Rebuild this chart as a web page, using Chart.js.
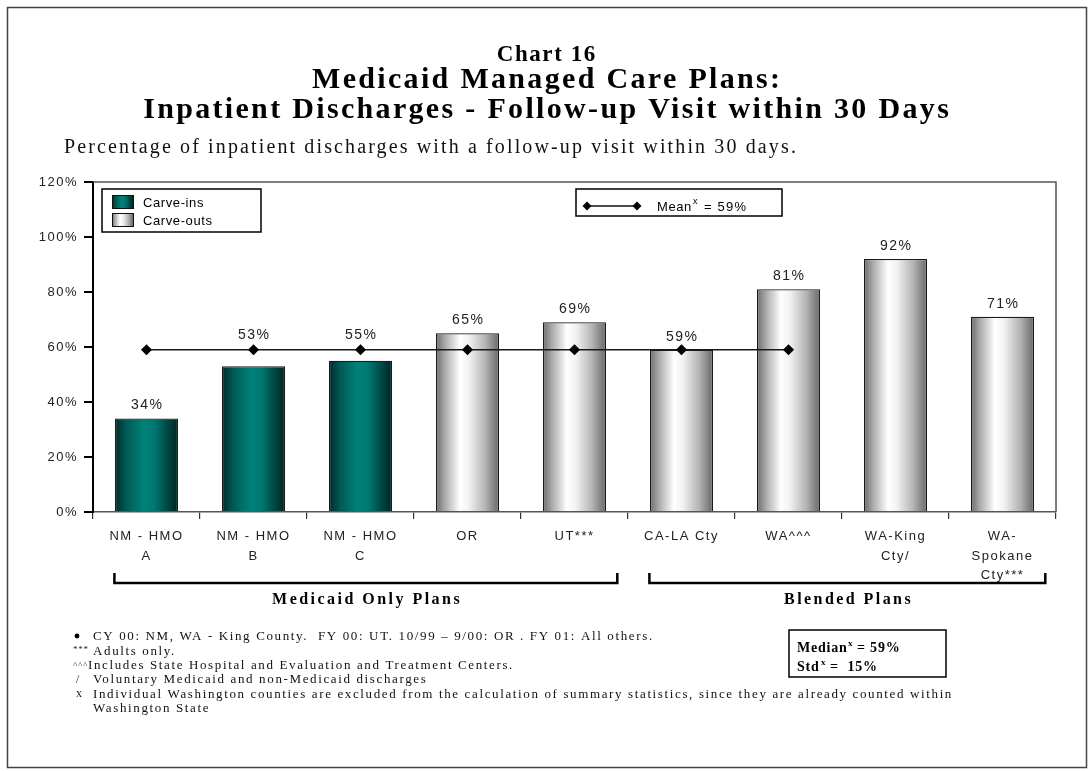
<!DOCTYPE html>
<html>
<head>
<meta charset="utf-8">
<script src="https://cdn.jsdelivr.net/npm/chart.js@4.4.1/dist/chart.umd.min.js"></script>
<style>
	html, body { margin: 0; padding: 0; background: #fff; }
	#wrap { position: relative; width: 1092px; height: 771px; }
</style>
</head>
<body>
<div id="wrap"><canvas id="chart" width="1092" height="771"></canvas></div>
<script>
const planLabels = [['NM - HMO', 'A'], ['NM - HMO', 'B'], ['NM - HMO', 'C'], 'OR', 'UT***', 'CA-LA Cty', 'WA^^^', ['WA-King', 'Cty/'], ['WA-', 'Spokane', 'Cty***']]
const followUpRates = [34, 53, 55, 65, 69, 59, 81, 92, 71]
const planTypes = ['Carve-ins', 'Carve-ins', 'Carve-ins', 'Carve-outs', 'Carve-outs', 'Carve-outs', 'Carve-outs', 'Carve-outs', 'Carve-outs']
const meanRate = [59, 59, 59, 59, 59, 59, 59, null, null]
const yTicks = [0, 20, 40, 60, 80, 100, 120]

const groupNames = ['Medicaid Only Plans', 'Blended Plans']
const groupFirst = [0, 5]
const groupLast = [4, 8]

const footnoteMarks = ['•', '***', '^^^', '/', 'x', '']
const footnoteTexts = [
	'CY 00: NM, WA - King County.  FY 00: UT. 10/99 – 9/00: OR . FY 01: All others.',
	'Adults only.',
	'Includes State Hospital and Evaluation and Treatment Centers.',
	'Voluntary Medicaid and non-Medicaid discharges',
	'Individual Washington counties are excluded from the calculation of summary statistics, since they are already counted within',
	'Washington State'
]

const SANS = '"Liberation Sans", Arial, sans-serif'
const SERIF = '"Liberation Serif", "Times New Roman", serif'
const BAR_PCT = 0.59

// horizontal shaded fills like the old Excel bars
function shade(ctx, x0, x1, type) {
	const g = ctx.createLinearGradient(x0, 0, x1, 0)
	if (type === 'Carve-ins') {
		g.addColorStop(0, '#002b28')
		g.addColorStop(0.18, '#005a55')
		g.addColorStop(0.45, '#008179')
		g.addColorStop(0.62, '#007872')
		g.addColorStop(0.85, '#00433f')
		g.addColorStop(1, '#002522')
	} else {
		g.addColorStop(0, '#6c6c6c')
		g.addColorStop(0.14, '#a9a9a9')
		g.addColorStop(0.38, '#ffffff')
		g.addColorStop(0.52, '#f2f2f2')
		g.addColorStop(0.78, '#b4b4b4')
		g.addColorStop(0.93, '#7f7f7f')
		g.addColorStop(1, '#6a6a6a')
	}
	return g
}

const barFill = c => {
	const type = planTypes[c.dataIndex]
	const base = type === 'Carve-ins' ? '#008179' : '#e0e0e0'
	const xs = c.chart.scales.x
	if (c.type !== 'data' || !xs || !xs.width) return base
	const cx = xs.getPixelForValue(c.dataIndex)
	const hw = xs.width / planLabels.length * BAR_PCT / 2
	return shade(c.chart.ctx, cx - hw, cx + hw, type)
}

function spacingFor(ctx, text, font, width) {
	ctx.save()
	ctx.font = font
	ctx.letterSpacing = '0px'
	const w = ctx.measureText(text).width
	ctx.restore()
	return (width - w) / text.length
}

function put(ctx, text, x, y, font, opts = {}) {
	const { align = 'left', color = '#111', spacing = 0, width = 0, baseline = 'middle' } = opts
	const ls = width ? spacingFor(ctx, text, font, width) : spacing
	ctx.save()
	ctx.font = font
	ctx.letterSpacing = ls + 'px'
	ctx.fillStyle = color
	ctx.textAlign = align
	ctx.textBaseline = baseline
	ctx.fillText(text, align === 'center' ? x + ls / 2 : x, y)
	ctx.restore()
}

function diamond(ctx, x, y, r) {
	ctx.beginPath()
	ctx.moveTo(x, y - r)
	ctx.lineTo(x + r, y)
	ctx.lineTo(x, y + r)
	ctx.lineTo(x - r, y)
	ctx.closePath()
	ctx.fill()
}

const decorations = {
	id: 'decorations',
	beforeDraw(chart) {
		chart.ctx.letterSpacing = '1.5px'
	},
	afterDatasetsDraw(chart) {
		const ctx = chart.ctx
		const meanY = chart.scales.y.getPixelForValue(meanRate[0])
		const meta = chart.getDatasetMeta(1)
		meta.data.forEach((bar, i) => {
			let y = bar.y - 13
			// keep the label clear of the mean line
			if (meanRate[i] != null && Math.abs(y - meanY) < 12) y = meanY - 15
			put(ctx, followUpRates[i] + '%', bar.x, y, '14px ' + SANS, { align: 'center', color: '#222', spacing: 1.5 })
		})
	},
	afterDraw(chart) {
		const ctx = chart.ctx
		const area = chart.chartArea
		const xs = chart.scales.x
		const cw = xs.width / planLabels.length
		ctx.save()
		ctx.letterSpacing = '0px'

		// page frame
		ctx.strokeStyle = '#444'
		ctx.lineWidth = 1.5
		ctx.strokeRect(7.5, 7.5, 1079, 760)

		// plot frame top and right
		ctx.strokeStyle = '#555'
		ctx.lineWidth = 1.5
		ctx.beginPath()
		ctx.moveTo(area.left, area.top)
		ctx.lineTo(area.right, area.top)
		ctx.lineTo(area.right, area.bottom)
		ctx.stroke()

		// titles
		const titleFont = 'bold 30px ' + SERIF
		const line2 = 'Inpatient Discharges - Follow-up Visit within 30 Days'
		const titleLs = spacingFor(ctx, line2, titleFont, 808)
		put(ctx, 'Chart 16', 546, 61, 'bold 23px ' + SERIF, { align: 'center', width: 100, color: '#000', baseline: 'alphabetic' })
		put(ctx, 'Medicaid Managed Care Plans:', 546, 88, titleFont, { align: 'center', spacing: titleLs, color: '#000', baseline: 'alphabetic' })
		put(ctx, line2, 546, 118, titleFont, { align: 'center', spacing: titleLs, color: '#000', baseline: 'alphabetic' })
		put(ctx, 'Percentage of inpatient discharges with a follow-up visit within 30 days.', 64, 153, '20px ' + SERIF, { width: 734, color: '#111', baseline: 'alphabetic' })

		// legend: plan types
		ctx.fillStyle = '#fff'
		ctx.fillRect(102, 189, 159, 43)
		ctx.strokeStyle = '#000'
		ctx.lineWidth = 1.5
		ctx.strokeRect(102, 189, 159, 43)
		const kinds = ['Carve-ins', 'Carve-outs']
		kinds.forEach((k, i) => {
			const y = 195 + i * 18
			ctx.fillStyle = shade(ctx, 112, 133, k)
			ctx.fillRect(112, y, 21, 13)
			ctx.strokeStyle = '#111'
			ctx.lineWidth = 1
			ctx.strokeRect(112.5, y + 0.5, 21, 13)
			put(ctx, k, 143, y + 8, '13px ' + SANS, { color: '#000', spacing: 0.6 })
		})

		// legend: mean
		ctx.fillStyle = '#fff'
		ctx.fillRect(576, 189, 206, 27)
		ctx.strokeStyle = '#000'
		ctx.lineWidth = 1.5
		ctx.strokeRect(576, 189, 206, 27)
		ctx.strokeStyle = '#111'
		ctx.beginPath()
		ctx.moveTo(587, 206)
		ctx.lineTo(637, 206)
		ctx.stroke()
		ctx.fillStyle = '#000'
		diamond(ctx, 587, 206, 4.5)
		diamond(ctx, 637, 206, 4.5)
		put(ctx, 'Mean', 657, 207, '13px ' + SANS, { color: '#000', spacing: 0.6 })
		put(ctx, 'x', 693, 202, '9px ' + SANS, { color: '#000' })
		put(ctx, '= 59%', 704, 207, '13px ' + SANS, { color: '#000', spacing: 1.2 })

		// group brackets
		const groupWidths = [190, 129]
		groupNames.forEach((name, g) => {
			const x0 = xs.getPixelForValue(groupFirst[g]) - 0.3 * cw
			const x1 = xs.getPixelForValue(groupLast[g]) + 0.4 * cw
			ctx.strokeStyle = '#000'
			ctx.lineWidth = 2.5
			ctx.beginPath()
			ctx.moveTo(x0, 573)
			ctx.lineTo(x0, 583)
			ctx.lineTo(x1, 583)
			ctx.lineTo(x1, 573)
			ctx.stroke()
			put(ctx, name, (x0 + x1) / 2, 600, 'bold 16px ' + SERIF, { align: 'center', color: '#000', width: groupWidths[g] })
		})

		// footnotes
		const noteFont = '13px ' + SERIF
		const noteLs = spacingFor(ctx, footnoteTexts[4], noteFont, 860)
		footnoteTexts.forEach((t, i) => {
			const y = 637 + i * 14.3
			const mark = footnoteMarks[i]
			if (mark === '•') {
				ctx.fillStyle = '#000'
				ctx.beginPath()
				ctx.arc(77, y - 1, 2.4, 0, Math.PI * 2)
				ctx.fill()
			} else if (mark) {
				put(ctx, mark, mark.length > 1 ? 73 : 76, mark === '***' ? y - 2 : y, (mark.length > 1 ? '9px ' : '12px ') + SERIF, { color: '#222', spacing: 0.8 })
			}
			const x = mark === '^^^' ? 88 : 93
			put(ctx, t, x, y, noteFont, { color: '#111', spacing: noteLs })
		})

		// summary box
		ctx.fillStyle = '#fff'
		ctx.fillRect(789, 630, 157, 47)
		ctx.strokeStyle = '#000'
		ctx.lineWidth = 1.5
		ctx.strokeRect(789, 630, 157, 47)
		put(ctx, 'Median', 797, 648, 'bold 14px ' + SERIF, { color: '#000', spacing: 0.8 })
		put(ctx, 'x', 848, 644, 'bold 9px ' + SERIF, { color: '#000' })
		put(ctx, '= 59%', 857, 648, 'bold 14px ' + SERIF, { color: '#000', spacing: 0.8 })
		put(ctx, 'Std', 797, 667, 'bold 14px ' + SERIF, { color: '#000', spacing: 0.8 })
		put(ctx, 'x', 821, 663, 'bold 9px ' + SERIF, { color: '#000' })
		put(ctx, '=  15%', 830, 667, 'bold 14px ' + SERIF, { color: '#000', spacing: 0.8 })

		ctx.restore()
	}
}

const chart = new Chart(document.getElementById('chart'), {
	type: 'bar',
	data: {
		labels: planLabels,
		datasets: [{
			type: 'line',
			label: 'Mean',
			data: meanRate,
			borderColor: '#1a1a1a',
			borderWidth: 1.5,
			tension: 0,
			pointStyle: 'rectRot',
			pointRadius: 4.5,
			pointBackgroundColor: '#000',
			pointBorderColor: '#000',
			fill: false,
			order: 0
		},
		{
			label: 'Rate',
			data: followUpRates,
			backgroundColor: barFill,
			borderColor: '#1a1a1a',
			borderWidth: 1.2,
			borderSkipped: 'bottom',
			barPercentage: BAR_PCT,
			categoryPercentage: 1,
			order: 1
		}]
	},
	options: {
		responsive: false,
		animation: false,
		devicePixelRatio: 1,
		layout: { padding: { top: 182, right: 36, bottom: 0, left: 0 } },
		plugins: {
			legend: { display: false },
			title: { display: false },
			tooltip: { enabled: false }
		},
		scales: {
			x: {
				offset: true,
				grid: { offset: true, drawOnChartArea: false, drawTicks: true, tickLength: 7, color: '#333', lineWidth: 1.2 },
				border: { color: '#555', width: 1.5 },
				ticks: {
					color: '#222',
					font: { family: SANS, size: 13, lineHeight: 1.5 },
					padding: 8,
					maxRotation: 0,
					autoSkip: false
				},
				afterFit: s => { s.height = 771 - 512 }
			},
			y: {
				min: 0,
				max: 120,
				afterBuildTicks: s => { s.ticks = yTicks.map(v => ({ value: v })) },
				ticks: {
					callback: v => v + '%',
					color: '#222',
					font: { family: SANS, size: 13 },
					padding: 6
				},
				grid: { drawOnChartArea: false, tickLength: 9, color: '#000', lineWidth: 2 },
				border: { color: '#000', width: 2 },
				afterFit: s => { s.width = 93 }
			}
		}
	},
	plugins: [decorations]
})
</script>
</body>
</html>
